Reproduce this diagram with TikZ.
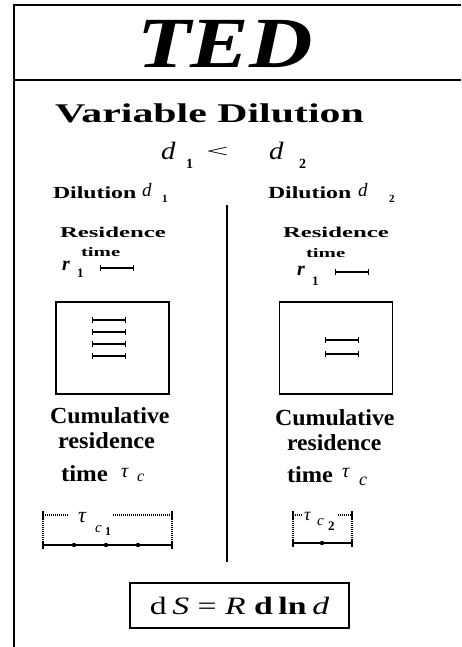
\documentclass[tikz,border=0pt]{standalone}
\usepackage{graphicx}
\usepackage{fontspec}
\setmainfont{Liberation Serif}
\usetikzlibrary{arrows.meta}
\newcommand{\fs}[1]{\fontsize{#1}{#1}\selectfont}
\newcommand{\sx}[2]{\scalebox{#1}[1]{#2}}
\tikzset{
  txt/.style={inner sep=0pt, outer sep=0pt, anchor=base west},
  frameline/.style={line width=1.6pt},
  boxline/.style={line width=1.4pt},
  rbar/.style={line width=1.4pt, {Bar[width=6pt]-Bar[width=6pt]}},
  dotline/.style={line width=1.2pt, dash pattern=on 0.9pt off 1.1pt},
  solidl/.style={line width=1.3pt},
  roombox/.style={draw, boxline, minimum width=113pt, minimum height=92pt, inner sep=0pt},
}
\begin{document}
\begin{tikzpicture}[x=1pt,y=-1pt]
\useasboundingbox (0,0) rectangle (461,647);
% frame
\draw[line width=2pt] (14,647) -- (14,5) -- (461,5);
\draw[frameline] (14,80) -- (461,80);
% title
\node[txt, anchor=base, font=\fs{72}\bfseries\itshape] (ted) at (225,68) {\sx{1.22}{TED}};
\node[txt, font=\fs{27}\bfseries] (vd) at (55,123) {\sx{1.55}{Variable Dilution}};
% d1 < d2
\node[txt, font=\fs{25}\itshape] (d1) at (161,160) {\sx{1.15}{d}};
\node[txt, font=\fs{14}\bfseries] (s1) at (186,168) {1};
\node[txt, font=\fs{20}] (lt) at (206,158) {\scalebox{2}[0.9]{<}};
\node[txt, font=\fs{25}\itshape] (d2) at (269,160) {\sx{1.15}{d}};
\node[txt, font=\fs{14}\bfseries] (s2) at (299,168) {2};
% Dilution headers
\node[txt, font=\fs{17}\bfseries] (dil1) at (53,198) {\sx{1.4}{Dilution}};
\node[txt, font=\fs{19}\itshape] (dil1d) at (142,196) {d};
\node[txt, font=\fs{11}\bfseries] (dil1s) at (162,202) {1};
\node[txt, font=\fs{17}\bfseries] (dil2) at (268,198) {\sx{1.4}{Dilution}};
\node[txt, font=\fs{19}\itshape] (dil2d) at (358,196) {d};
\node[txt, font=\fs{11}\bfseries] (dil2s) at (389,202) {2};
% divider
\coordinate (divtop) at (227,205);
\coordinate (divbot) at (227,562);
\draw[frameline] (divtop) -- (divbot);
% residence time left
\node[txt, font=\fs{15}\bfseries] (res1) at (60,237) {\sx{1.65}{Residence}};
\node[txt, font=\fs{13}\bfseries] (time1) at (81,256) {\sx{1.6}{time}};
\node[txt, font=\fs{20}\bfseries\itshape] (r1) at (62,270) {r};
\node[txt, font=\fs{13}\bfseries] (r1s) at (77,277) {1};
\coordinate (b1a) at (100,268); \coordinate (b1b) at (134,268);
\draw[rbar] (b1a) -- (b1b);
% residence time right
\node[txt, font=\fs{15}\bfseries] (res2) at (283,237) {\sx{1.65}{Residence}};
\node[txt, font=\fs{13}\bfseries] (time2) at (306,257) {\sx{1.6}{time}};
\node[txt, font=\fs{20}\bfseries\itshape] (r2) at (297,275) {r};
\node[txt, font=\fs{13}\bfseries] (r2s) at (312,285) {1};
\coordinate (b2a) at (335,272); \coordinate (b2b) at (369,272);
\draw[rbar] (b2a) -- (b2b);
% boxes
\node[roombox] (box1) at (112.5,348) {};
\node[roombox] (box2) at (336,348) {};
\foreach \yy in {320,332,344,356}{\draw[rbar] (92,\yy) -- (126,\yy);}
\foreach \yy in {340,354}{\draw[rbar] (325,\yy) -- (359,\yy);}
% cumulative left
\node[txt, font=\fs{23}\bfseries] (cum1) at (50,423) {\sx{1.04}{Cumulative}};
\node[txt, font=\fs{23}\bfseries] (rsd1) at (58,448) {\sx{1.06}{residence}};
\node[txt, font=\fs{23}\bfseries] (tm1) at (61,481) {\sx{1.08}{time}};
\node[txt, font=\fs{20}\itshape] (tau1) at (121,477) {τ};
\node[txt, font=\fs{16}\itshape] (tau1c) at (137,481) {c};
% cumulative right
\node[txt, font=\fs{23}\bfseries] (cum2) at (275,425) {\sx{1.04}{Cumulative}};
\node[txt, font=\fs{23}\bfseries] (rsd2) at (287,450) {\sx{1.03}{residence}};
\node[txt, font=\fs{23}\bfseries] (tm2) at (287,482) {\sx{1.06}{time}};
\node[txt, font=\fs{20}\itshape] (tau2) at (342,477) {τ};
\node[txt, font=\fs{18}\itshape] (tau2c) at (359,485) {c};
% dotted interval left
\draw[dotline] (43,515) -- (68,515);
\draw[dotline] (113,515) -- (172,515);
\draw[dotline] (43,515) -- (43,545);
\draw[dotline] (172,515) -- (172,545);
\draw[solidl] (43,511) -- (43,520);
\draw[solidl] (172,511) -- (172,520);
\draw[solidl] (43,545) -- (172,545);
\draw[solidl] (43,541) -- (43,549);
\draw[solidl] (172,541) -- (172,549);
\foreach \xx in {74,106,138}{\fill (\xx,545) circle[radius=2.2pt];}
\node[txt, font=\fs{22}\itshape] (t1) at (78,522) {τ};
\node[txt, font=\fs{15}\itshape] (t1c) at (95,532) {c};
\node[txt, font=\fs{12}\bfseries] (t1s) at (105,535) {1};
% dotted interval right
\draw[dotline] (293,515) -- (302,515);
\draw[dotline] (338,515) -- (352,515);
\draw[dotline] (293,515) -- (293,543);
\draw[dotline] (352,515) -- (352,543);
\draw[solidl] (293,511) -- (293,520);
\draw[solidl] (352,511) -- (352,520);
\draw[solidl] (293,543) -- (352,543);
\draw[solidl] (293,539) -- (293,547);
\draw[solidl] (352,539) -- (352,547);
\fill (322,543) circle[radius=2.2pt];
\node[txt, font=\fs{18}\itshape] (t2) at (304,520) {τ};
\node[txt, font=\fs{15}\itshape] (t2c) at (317,525) {c};
\node[txt, font=\fs{13}\bfseries] (t2s) at (328,530) {2};
% equation box
\node[draw, boxline, minimum width=219pt, minimum height=45pt, inner sep=0pt] (eq) at (239.5,605.5)
  {\fs{25}\sx{1.35}{d\,\textit{S} = \textit{R} \textbf{d\,ln}\,\textit{d}}};
\end{tikzpicture}
\end{document}
